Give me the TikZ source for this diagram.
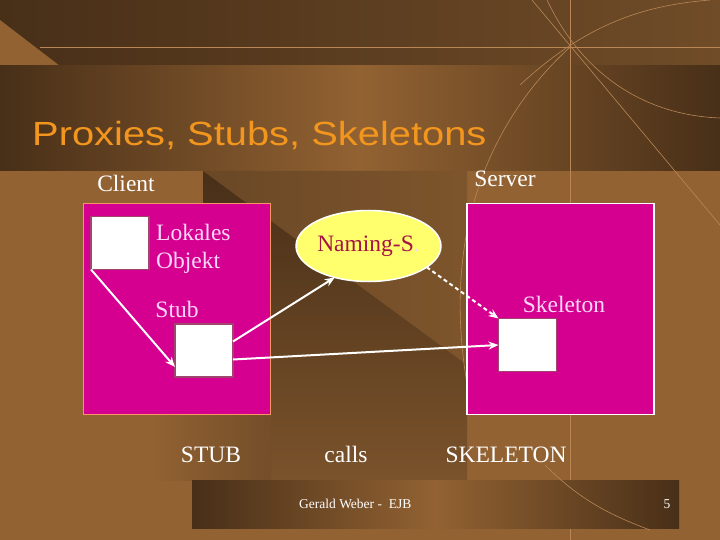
\documentclass[tikz,border=0pt]{standalone}
\usepackage{fontspec}
\setmainfont{Liberation Serif}
\newfontfamily\titlefont{Liberation Sans}[FakeStretch=1.19]
\usetikzlibrary{shapes.geometric,arrows.meta}
\definecolor{bgbrown}{RGB}{146,98,50}
\definecolor{darkbrown}{RGB}{72,47,24}
\definecolor{midbrown}{RGB}{112,76,40}
\definecolor{linebrown}{RGB}{185,135,85}
\definecolor{boxmagenta}{RGB}{213,0,143}
\definecolor{clientborder}{RGB}{245,150,100}
\definecolor{objborder}{RGB}{160,70,110}
\definecolor{namingyellow}{RGB}{255,255,110}
\definecolor{namingred}{RGB}{165,20,70}
\definecolor{paletext}{RGB}{252,215,250}
\definecolor{titleorange}{RGB}{243,150,30}

\begin{document}
\begin{tikzpicture}[x=1pt,y=-1pt,
    box/.style={line width=1.5pt, fill=boxmagenta, minimum width=187pt,
        minimum height=211pt, inner sep=0pt, outer sep=0pt},
    obj/.style={draw=objborder, line width=1.5pt, fill=white, minimum width=58pt,
        minimum height=53pt, inner sep=0pt, outer sep=0pt},
    lbl/.style={text=white, font=\fontsize{23.5}{28}\selectfont, inner sep=0pt, anchor=base},
    arr/.style={-{Stealth[length=10pt,width=8pt]}, draw=white, line width=2pt},
    deco/.style={draw=linebrown, line width=0.6pt}]
    % background of the slide
    \useasboundingbox (0,0) rectangle (720,540);
    \fill[bgbrown] (0,0) rectangle (720,540);
    \shade[left color=darkbrown, right color=midbrown] (0,0) rectangle (720,66);
    \fill[bgbrown] (0,20) -- (60,66) -- (0,66) -- cycle;
    \shade[left color=darkbrown, right color=darkbrown, middle color=bgbrown] (0,66) rectangle (720,171);
    \shade[left color=midbrown!85!darkbrown, right color=midbrown!60!bgbrown] (203,171) -- (467,171) -- (467,365) -- cycle;
    \shade[top color=darkbrown, bottom color=midbrown!70!bgbrown] (203,171) -- (467,365) -- (467,480) -- (203,480) -- cycle;
    \shade[left color=bgbrown, right color=midbrown!90!bgbrown] (150,414) rectangle (271,480);
    \draw[deco] (570,0) -- (570,540);
    \draw[deco] (40,47) -- (720,47);
    \draw[deco] (532,0) -- (720,225);
    \draw[deco] (547,0) .. controls (580,70) and (640,115) .. (720,118);
    \draw[deco] (520,85) .. controls (590,20) and (650,5) .. (710,0);
    \draw[deco] (570,47) .. controls (480,130) and (440,250) .. (470,400);
    \shade[left color=darkbrown, right color=darkbrown, middle color=bgbrown] (192,480) rectangle (679,528);
    \draw[deco] (545,465) .. controls (580,500) and (610,515) .. (650,530);

    \node[text=titleorange, font=\titlefont\fontsize{33.5}{40}\selectfont, inner sep=0pt,
        anchor=base west] (title) at (32,146) {Proxies, Stubs, Skeletons};

    % client and server
    \node[box, draw=clientborder] (client) at (176.75,309) {};
    \node[box, draw=white] (server) at (560.5,309) {};
    \node[lbl] (clientlbl) at (126,192) {Client};
    \node[lbl] (serverlbl) at (505,187) {Server};

    \node[obj] (lokal) at (120,243) {};
    \node[obj] (stub) at (204,350.5) {};
    \node[obj] (skel) at (527.5,345) {};
    \node[lbl, text=paletext, anchor=base west, align=left] (lokaltxt) at (156,268) {Lokales\\Objekt};
    \node[lbl, text=paletext] (stubtxt) at (177,317) {Stub};
    \node[lbl, text=paletext] (skeltxt) at (564,312) {Skeleton};

    \node[ellipse, draw=white, line width=1.5pt, fill=namingyellow, minimum width=126pt,
        minimum height=71pt, inner sep=0pt, outer sep=0pt, text=namingred,
        font=\fontsize{23.5}{28}\selectfont] (naming) at (368.5,246) {Naming-S\textcolor{paletext}{.}};

    \draw[arr] (lokal.south west) -- ([yshift=10pt]stub.south west);
    \draw[arr] ([yshift=9pt]stub.east) -- (naming.223);
    \draw[arr, dash pattern=on 4pt off 3pt] (naming.340) -- (skel.north west);
    \draw[arr] ([yshift=-9pt]stub.east) -- (skel.west);

    \node[lbl] (stubcap) at (211,462) {STUB};
    \node[lbl] (callscap) at (346,462) {calls};
    \node[lbl] (skelcap) at (506,462) {SKELETON};

    \node[text=white, font=\fontsize{13.5}{16}\selectfont, inner sep=0pt, anchor=base west] (author) at (299,508) {Gerald Weber -\ \ EJB};
    \node[text=white, font=\fontsize{13.5}{16}\selectfont, inner sep=0pt, anchor=base] (pagenum) at (667,508) {5};
\end{tikzpicture}
\end{document}
